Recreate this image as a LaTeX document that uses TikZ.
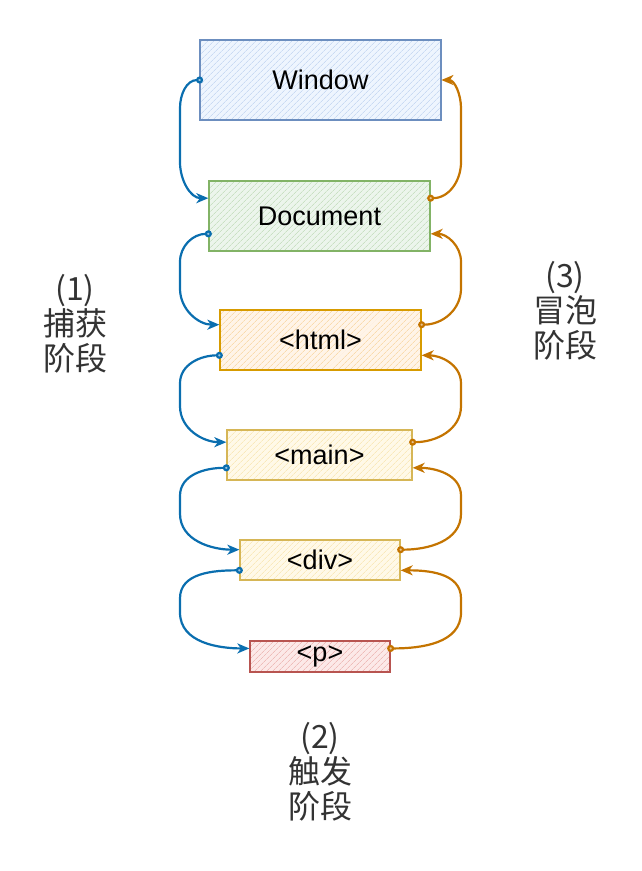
\documentclass[tikz,border=0pt]{standalone}
\usepackage{fontspec}
\setmainfont{Liberation Sans}
\newfontfamily\cjkfont{Noto Sans CJK SC}
\usetikzlibrary{arrows.meta,patterns.meta,calc}
\definecolor{capblue}{HTML}{0A6EAF}
\definecolor{bubor}{HTML}{C47400}
\definecolor{labgray}{HTML}{333333}
\definecolor{winF}{HTML}{DAE8FC}\definecolor{winD}{HTML}{6C8EBF}
\definecolor{docF}{HTML}{D5E8D4}\definecolor{docD}{HTML}{82B366}
\definecolor{htmF}{HTML}{FFE6CC}\definecolor{htmD}{HTML}{D79B00}
\definecolor{ylwF}{HTML}{FFF2CC}\definecolor{ylwD}{HTML}{D6B656}
\definecolor{redF}{HTML}{F8CECC}\definecolor{redD}{HTML}{B85450}
\tikzset{
  box/.style 2 args={draw=#1, line width=1.3pt, inner sep=0pt,
    preaction={fill=#2!45!white},
    pattern={Lines[angle=45,distance=4pt,line width=0.8pt]}, pattern color=#2!85!#1,
    font=\fontsize{27}{32}\selectfont, text=black},
  capline/.style={draw=capblue, line width=2.2pt, shorten <=-3.5pt,
    {Circle[length=7pt,fill=capblue!40!white]}-{Stealth[length=12pt,width=10pt,inset=3.5pt]}},
  bubline/.style={draw=bubor, line width=2.2pt, shorten <=-3.5pt,
    {Circle[length=7pt,fill=bubor!40!white]}-{Stealth[length=12pt,width=10pt,inset=3.5pt]}},
  lab/.style={align=center, text=labgray, font=\cjkfont\fontsize{32}{35}\selectfont, inner sep=0pt}
}
\newcommand\capturelink[2]{%
  \draw[capline] (#1) to[out=180,in=90] ($(#1 -| Lx)+(0,28)$)
    -- ($(#2 -| Lx)+(0,-36)$) to[out=-90,in=180] (#2);}
\newcommand\bubblelink[2]{%
  \draw[bubline] (#1) to[out=0,in=-90] ($(#1 -| Rx)+(0,-36)$)
    -- ($(#2 -| Rx)+(0,28)$) to[out=90,in=0] (#2);}
\begin{document}
\begin{tikzpicture}[x=1pt,y=-1pt]
\useasboundingbox (0,0) rectangle (641,871);
\coordinate (Lx) at (180,0);
\coordinate (Rx) at (461,0);
\node[box={winD}{winF}, minimum width=241pt, minimum height=80pt] (win) at (320.5,80) {Window};
\node[box={docD}{docF}, minimum width=221pt, minimum height=70pt] (doc) at (319.5,216) {Document};
\node[box={htmD}{htmF}, minimum width=201pt, minimum height=60pt] (htm) at (320.5,340) {<html>};
\node[box={ylwD}{ylwF}, minimum width=185pt, minimum height=50pt] (mai) at (319.5,455) {<main>};
\node[box={ylwD}{ylwF}, minimum width=160pt, minimum height=40pt] (dv) at (320,560) {<div>};
\node[box={redD}{redF}, minimum width=140pt, minimum height=31pt] (pp) at (320,656.5) {<p>};
% connection points
\foreach \n in {doc,htm,mai,dv,pp}{
  \coordinate (\n-lu) at ($(\n.north west)!0.25!(\n.south west)$);
  \coordinate (\n-ld) at ($(\n.north west)!0.75!(\n.south west)$);
  \coordinate (\n-ru) at ($(\n.north east)!0.25!(\n.south east)$);
  \coordinate (\n-rd) at ($(\n.north east)!0.75!(\n.south east)$);
}
% capture (blue)
\capturelink{win.west}{doc-lu}
\capturelink{doc-ld}{htm-lu}
\capturelink{htm-ld}{mai-lu}
\capturelink{mai-ld}{dv-lu}
\capturelink{dv-ld}{pp-lu}
% bubble (orange)
\bubblelink{doc-ru}{win.east}
\bubblelink{htm-ru}{doc-rd}
\bubblelink{mai-ru}{htm-rd}
\bubblelink{dv-ru}{mai-rd}
\bubblelink{pp-ru}{dv-rd}
% labels
\node[lab] (l1) at (75,324) {(1)\\捕获\\阶段};
\node[lab] (l3) at (565,311) {(3)\\冒泡\\阶段};
\node[lab] (l2) at (320,772) {(2)\\触发\\阶段};
\end{tikzpicture}
\end{document}
